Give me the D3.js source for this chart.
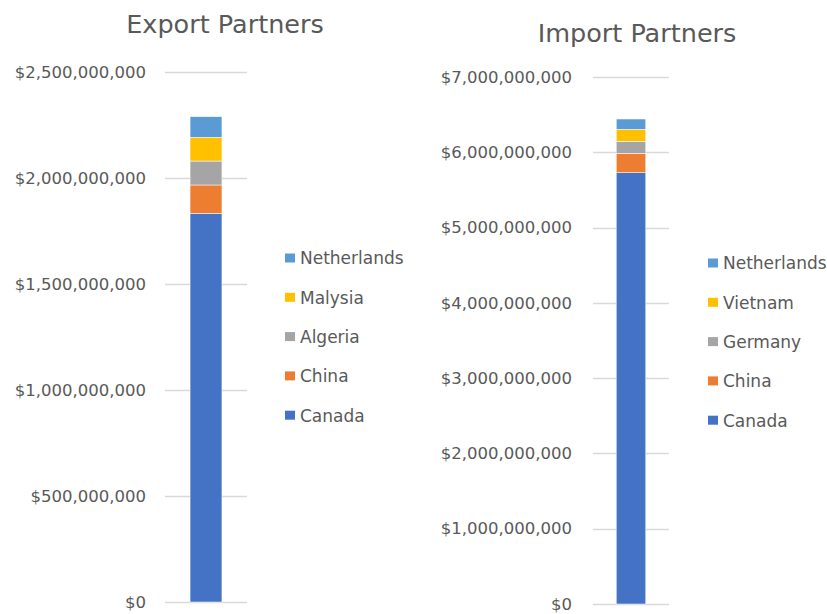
<!DOCTYPE html>
<html>
<head>
<meta charset="utf-8">
<script src="https://cdn.jsdelivr.net/npm/d3@7"></script>
<style>
  body { margin: 0; background: #fff; }
  text { font-family: "DejaVu Sans", "Noto Sans", sans-serif; fill: #595959; }
</style>
</head>
<body>
<svg id="chart" width="827" height="614"></svg>
<script>
// series, bottom to top of the stack
const exportPartners = ['Canada', 'China', 'Algeria', 'Malysia', 'Netherlands'];
const exportValues = [1833e6, 134e6, 113e6, 112e6, 97e6];
const exportTicks = [0, 5e8, 1e9, 1.5e9, 2e9, 2.5e9];

const importPartners = ['Canada', 'China', 'Germany', 'Vietnam', 'Netherlands'];
const importValues = [5729e6, 257e6, 160e6, 159e6, 137e6];
const importTicks = [0, 1e9, 2e9, 3e9, 4e9, 5e9, 6e9, 7e9];

const colors = ['#4472C4', '#ED7D31', '#A5A5A5', '#FFC000', '#5B9BD5'];

const svg = d3.select('#chart');
const fmt = d3.format('$,.0f');

function drawChart(opt) {
  const g = svg.append('g');

  const y = d3.scaleLinear()
    .domain([0, d3.max(opt.ticks)])
    .range([opt.bottom, opt.top]);

  const x = d3.scaleBand()
    .domain(['total'])
    .range([opt.left, opt.right])
    .padding(0.44);

  // title
  g.append('text')
    .attr('x', opt.titleX)
    .attr('y', opt.titleY)
    .attr('text-anchor', 'middle')
    .style('font-size', '25.5px')
    .text(opt.title);

  // gridlines
  g.append('g')
    .selectAll('line')
    .data(opt.ticks)
    .join('line')
    .attr('x1', opt.left)
    .attr('x2', opt.right)
    .attr('y1', (d) => Math.round(y(d)) + 0.5)
    .attr('y2', (d) => Math.round(y(d)) + 0.5)
    .attr('stroke', '#d9d9d9')
    .attr('stroke-width', 1.5);

  // tick labels
  g.append('g')
    .selectAll('text')
    .data(opt.ticks)
    .join('text')
    .attr('x', opt.labelX)
    .attr('y', (d) => y(d))
    .attr('dy', '0.35em')
    .attr('text-anchor', 'end')
    .style('font-size', '16.5px')
    .text((d) => fmt(d));

  // stacked bar
  const row = {};
  opt.keys.forEach((k, i) => { row[k] = opt.values[i]; });
  const series = d3.stack().keys(opt.keys)([row]);

  g.append('g')
    .selectAll('rect')
    .data(series)
    .join('rect')
    .attr('x', x('total'))
    .attr('width', x.bandwidth())
    .attr('y', (d) => y(d[0][1]))
    .attr('height', (d) => y(d[0][0]) - y(d[0][1]))
    .attr('fill', (d, i) => colors[i])
    .attr('stroke', '#fff')
    .attr('stroke-width', 0.5);

  // legend, top item is the last series
  const legend = g.append('g')
    .selectAll('g')
    .data(opt.keys.slice().reverse())
    .join('g')
    .attr('transform', (d, i) => `translate(${opt.legendX},${opt.legendY + i * 39.3})`);

  legend.append('rect')
    .attr('x', 0)
    .attr('y', -4.5)
    .attr('width', 10)
    .attr('height', 9)
    .attr('fill', (d) => colors[opt.keys.indexOf(d)]);

  legend.append('text')
    .attr('x', 15)
    .attr('y', 0.5)
    .attr('dy', '0.35em')
    .style('font-size', '17px')
    .text((d) => d);
}

drawChart({
  title: 'Export Partners',
  titleX: 225, titleY: 33,
  keys: exportPartners, values: exportValues, ticks: exportTicks,
  left: 165, right: 247, top: 72, bottom: 602,
  labelX: 146,
  legendX: 285, legendY: 258
});

drawChart({
  title: 'Import Partners',
  titleX: 637, titleY: 42,
  keys: importPartners, values: importValues, ticks: importTicks,
  left: 593, right: 669, top: 77, bottom: 604,
  labelX: 572,
  legendX: 708, legendY: 263
});
</script>
</body>
</html>
